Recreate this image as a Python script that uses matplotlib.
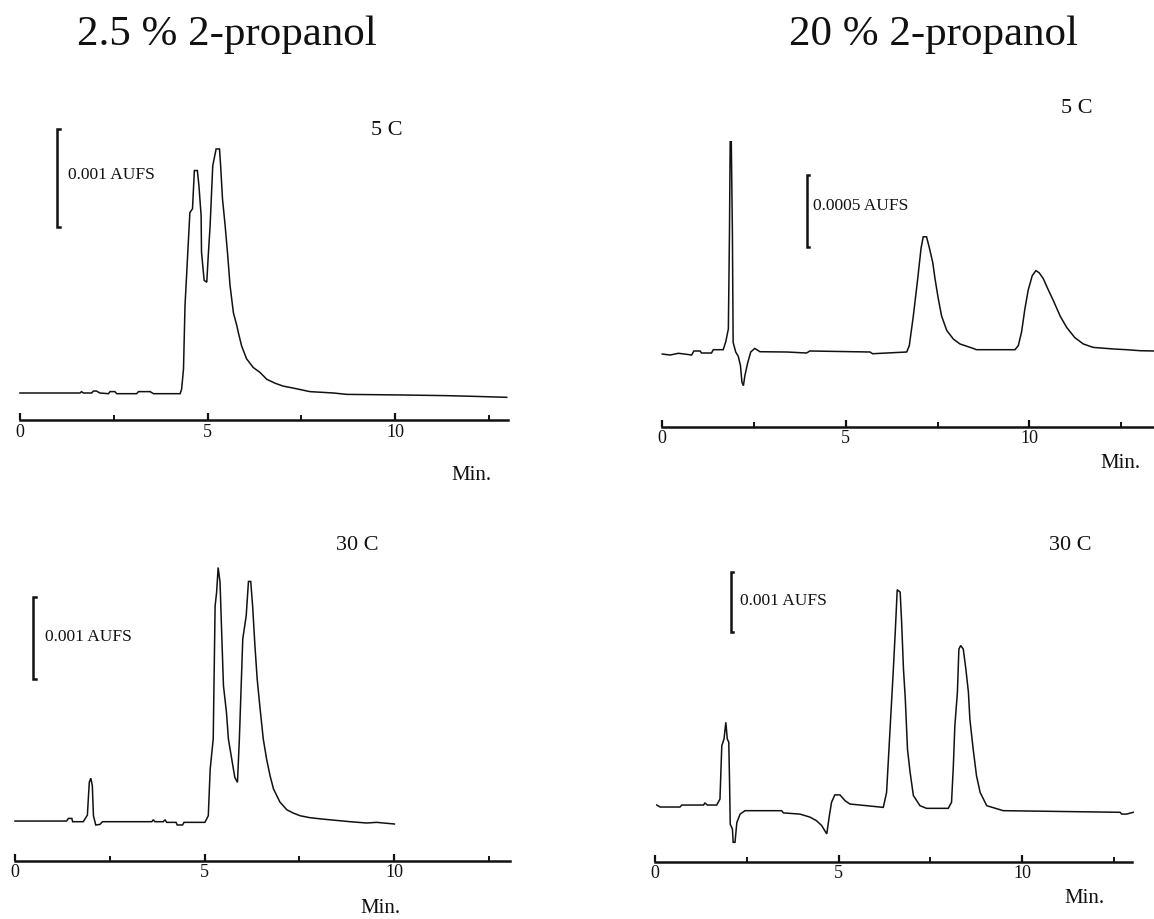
import matplotlib
matplotlib.use("Agg")
import matplotlib.pyplot as plt
import numpy as np

plt.rcParams['font.family'] = ['Liberation Serif', 'DejaVu Serif']

W, H = 1154, 920

# ---- data: time (min) and signal (units of 0.001 AUFS, baseline = 0) ----
# 2.5 % 2-propanol, 5 C
t_a = [0, 1.60, 1.64, 1.69, 1.91, 1.96, 2.04, 2.13, 2.36, 2.40, 2.53, 2.58, 3.11, 3.16,
       3.47, 3.56, 4.27, 4.31, 4.36, 4.40, 4.53, 4.60, 4.65, 4.73, 4.77, 4.83, 4.84, 4.91,
       4.98, 5.02, 5.07, 5.14, 5.23, 5.32, 5.35, 5.40, 5.47, 5.54, 5.60, 5.69, 5.78, 5.82,
       5.91, 6.04, 6.22, 6.40, 6.58, 6.80, 7.02, 7.29, 7.73, 8.36, 8.71, 10.13, 11.38,
       12.09, 12.98]
y_a = [0, 0, 0.014, 0, 0, 0.02, 0.02, 0, -0.007, 0.014, 0.014, -0.007, -0.007, 0.014,
       0.014, -0.007, -0.007, 0.04, 0.245, 0.89, 1.84, 1.88, 2.27, 2.27, 2.12, 1.81, 1.44,
       1.15, 1.13, 1.40, 1.71, 2.32, 2.49, 2.49, 2.32, 1.98, 1.71, 1.40, 1.10, 0.82, 0.69,
       0.62, 0.48, 0.35, 0.26, 0.21, 0.14, 0.10, 0.07, 0.05, 0.014, 0, -0.014, -0.02,
       -0.027, -0.034, -0.044]

# 20 % 2-propanol, 5 C
t_b = [0, 0.21, 0.44, 0.66, 0.80, 0.86, 1.03, 1.07, 1.34, 1.39, 1.66, 1.73, 1.80, 1.83,
       1.85, 1.88, 1.91, 1.93, 2.00, 2.07, 2.13, 2.17, 2.21, 2.25, 2.33, 2.41, 2.52, 2.66,
       3.39, 3.93, 4.02, 5.66, 5.73, 6.66, 6.73, 6.84, 6.96, 7.05, 7.11, 7.20, 7.28, 7.37,
       7.43, 7.52, 7.61, 7.75, 7.93, 8.11, 8.47, 8.56, 9.61, 9.70, 9.79, 9.88, 9.97, 10.08,
       10.18, 10.27, 10.38, 10.52, 10.65, 10.84, 11.02, 11.24, 11.47, 11.74, 12.29, 12.65,
       13.02, 13.41]
y_b = [-0.014, -0.021, -0.009, -0.016, -0.021, 0.007, 0.007, -0.007, -0.007, 0.016, 0.016,
       0.072, 0.16, 0.83, 1.46, 1.46, 0.83, 0.067, 0, -0.03, -0.095, -0.21, -0.234, -0.164,
       -0.072, 0, 0.025, 0.002, 0, -0.007, 0.007, 0, -0.012, 0, 0.044, 0.25, 0.51, 0.72,
       0.80, 0.80, 0.72, 0.62, 0.51, 0.37, 0.25, 0.15, 0.09, 0.056, 0.025, 0.016, 0.016,
       0.044, 0.14, 0.30, 0.43, 0.53, 0.565, 0.55, 0.51, 0.43, 0.36, 0.25, 0.17, 0.10,
       0.056, 0.032, 0.021, 0.016, 0.009, 0.007]

# 2.5 % 2-propanol, 30 C
t_c = [0, 1.36, 1.41, 1.50, 1.52, 1.80, 1.91, 1.96, 2.00, 2.04, 2.07, 2.13, 2.24, 2.31,
       3.61, 3.65, 3.69, 3.91, 3.96, 4.00, 4.25, 4.28, 4.42, 4.46, 5.01, 5.10, 5.15, 5.23,
       5.28, 5.32, 5.36, 5.41, 5.45, 5.50, 5.58, 5.63, 5.72, 5.80, 5.87, 5.92, 6.01, 6.10,
       6.16, 6.22, 6.27, 6.33, 6.39, 6.46, 6.55, 6.64, 6.73, 6.82, 6.99, 7.17, 7.34, 7.52,
       7.78, 8.09, 8.84, 9.28, 9.54, 10.01]
y_c = [0.008, 0.008, 0.04, 0.04, 0, 0, 0.08, 0.48, 0.53, 0.44, 0.073, -0.04, -0.033, 0,
       0, 0.024, 0, 0, 0.024, -0.008, -0.008, -0.04, -0.04, -0.008, -0.008, 0.073, 0.64,
       1.01, 2.63, 2.80, 3.10, 2.92, 2.35, 1.66, 1.33, 1.01, 0.76, 0.54, 0.48, 1.01, 2.23,
       2.51, 2.93, 2.93, 2.63, 2.15, 1.74, 1.41, 1.01, 0.76, 0.56, 0.40, 0.24, 0.146,
       0.106, 0.073, 0.049, 0.033, 0, -0.016, -0.008, -0.028]

# 20 % 2-propanol, 30 C
t_d = [0.05, 0.14, 0.68, 0.73, 1.32, 1.36, 1.43, 1.68, 1.77, 1.82, 1.88, 1.93, 1.97, 2.01,
       2.03, 2.05, 2.11, 2.13, 2.18, 2.23, 2.32, 2.45, 3.45, 3.50, 3.95, 4.22, 4.40, 4.54,
       4.68, 4.75, 4.81, 4.90, 5.04, 5.18, 5.31, 5.77, 6.22, 6.31, 6.39, 6.49, 6.55, 6.60,
       6.68, 6.72, 6.77, 6.82, 6.88, 6.95, 7.04, 7.22, 7.40, 7.99, 8.08, 8.13, 8.17, 8.24,
       8.28, 8.33, 8.40, 8.47, 8.54, 8.58, 8.67, 8.76, 8.86, 9.04, 9.49, 12.67, 12.72,
       12.85, 13.03]
y_d = [0.011, -0.022, -0.022, 0.011, 0.011, 0.044, 0.011, 0.011, 0.11, 1.0, 1.11, 1.39,
       1.11, 1.06, 0.44, -0.31, -0.39, -0.61, -0.61, -0.28, -0.14, -0.083, -0.083, -0.12,
       -0.14, -0.19, -0.25, -0.33, -0.47, -0.17, 0.056, 0.18, 0.18, 0.083, 0.028, 0,
       -0.028, 0.22, 1.11, 2.22, 2.94, 3.60, 3.56, 3.06, 2.28, 1.78, 0.94, 0.56, 0.17, 0,
       -0.044, -0.044, 0.056, 0.67, 1.33, 1.89, 2.61, 2.67, 2.61, 2.28, 1.89, 1.44, 0.94,
       0.50, 0.22, 0, -0.083, -0.11, -0.14, -0.14, -0.11]

titles = ["2.5 % 2-propanol", "20 % 2-propanol"]
temps = ["5 C", "5 C", "30 C", "30 C"]
scale_labels = ["0.001 AUFS", "0.0005 AUFS", "0.001 AUFS", "0.001 AUFS"]
scale_sizes = [1.0, 0.5, 1.0, 1.0]
major_ticks = [0, 5, 10]
minor_ticks = [2.5, 7.5, 12.5]

# ---- layout (pixel geometry of each panel) ----
# box(left, top, right, bottom), x0 px, px per min, baseline px, px per 0.001 AUFS
panels = [
    dict(t=t_a, y=y_a, box=(0, 60, 577, 500), x0=20, ppm=37.5, base=394, ppu=98,
         axis_h=-0.28, t_end=13.0, bar=(0.99, 1.69), lab=(1.28, 2.23),
         temp=(9.79, 2.64), minp=(12.05, -0.88)),
    dict(t=t_b, y=y_b, box=(577, 60, 1154, 500), x0=662.3, ppm=36.7, base=353, ppu=144,
         axis_h=-0.523, t_end=13.45, bar=(3.93, 0.727), lab=(4.10, 1.02),
         temp=(11.3, 1.67), minp=(12.47, -0.80)),
    dict(t=t_c, y=y_c, box=(0, 500, 577, 920), x0=15, ppm=37.9, base=822.7, ppu=82,
         axis_h=-0.476, t_end=13.06, bar=(0.48, 1.74), lab=(0.79, 2.26),
         temp=(9.02, 3.33), minp=(9.63, -1.10)),
    dict(t=t_d, y=y_d, box=(577, 500, 1154, 920), x0=655, ppm=36.7, base=806.7, ppu=60,
         axis_h=-0.944, t_end=13.0, bar=(2.07, 2.89), lab=(2.32, 3.43),
         temp=(11.31, 4.28), minp=(11.69, -1.61)),
]

fig = plt.figure(figsize=(W / 100, H / 100), dpi=100)
ink = '#111111'

for i, p in enumerate(panels):
    l, tp, r, b = p['box']
    ax = fig.add_axes([l / W, 1 - b / H, (r - l) / W, (b - tp) / H])
    ax.set_xlim((l - p['x0']) / p['ppm'], (r - p['x0']) / p['ppm'])
    ax.set_ylim((p['base'] - b) / p['ppu'], (p['base'] - tp) / p['ppu'])
    ax.patch.set_visible(False)

    ax.plot(p['t'], p['y'], color=ink, lw=1.1, solid_joinstyle='miter')

    for s in ['top', 'right', 'left']:
        ax.spines[s].set_visible(False)
    ax.spines['bottom'].set_position(('data', p['axis_h']))
    ax.spines['bottom'].set_bounds(0, p['t_end'])
    ax.spines['bottom'].set_linewidth(1.8)
    ax.spines['bottom'].set_color(ink)
    ax.yaxis.set_visible(False)
    ax.set_xticks(major_ticks)
    ax.set_xticklabels([str(v) for v in major_ticks])
    ax.set_xticks(minor_ticks, minor=True)
    ax.tick_params(axis='x', which='major', direction='in', length=5, width=1.6,
                   color=ink, labelsize=13, pad=1.5, labelcolor=ink)
    ax.tick_params(axis='x', which='minor', direction='in', length=3.5, width=1.4,
                   color=ink)

    # vertical scale bar
    bt, bb = p['bar']
    bh = scale_sizes[i]
    cap = 2.5 / p['ppm']
    ax.plot([bt + cap, bt, bt, bt + cap], [bb, bb, bb + bh, bb + bh],
            color=ink, lw=1.8, solid_joinstyle='miter')
    ax.text(p['lab'][0], p['lab'][1], scale_labels[i], fontsize=12.5, color=ink,
            ha='left', va='center')

    ax.text(p['temp'][0], p['temp'][1], temps[i], fontsize=16, color=ink,
            ha='center', va='baseline')
    ax.text(p['minp'][0], p['minp'][1], "Min.", fontsize=15, color=ink,
            ha='center', va='baseline')

fig.text(77 / W, 1 - 45 / H, titles[0], fontsize=31, color=ink, ha='left', va='baseline')
fig.text(1078 / W, 1 - 45 / H, titles[1], fontsize=31, color=ink, ha='right', va='baseline')

fig.savefig("out.png", dpi=100)
